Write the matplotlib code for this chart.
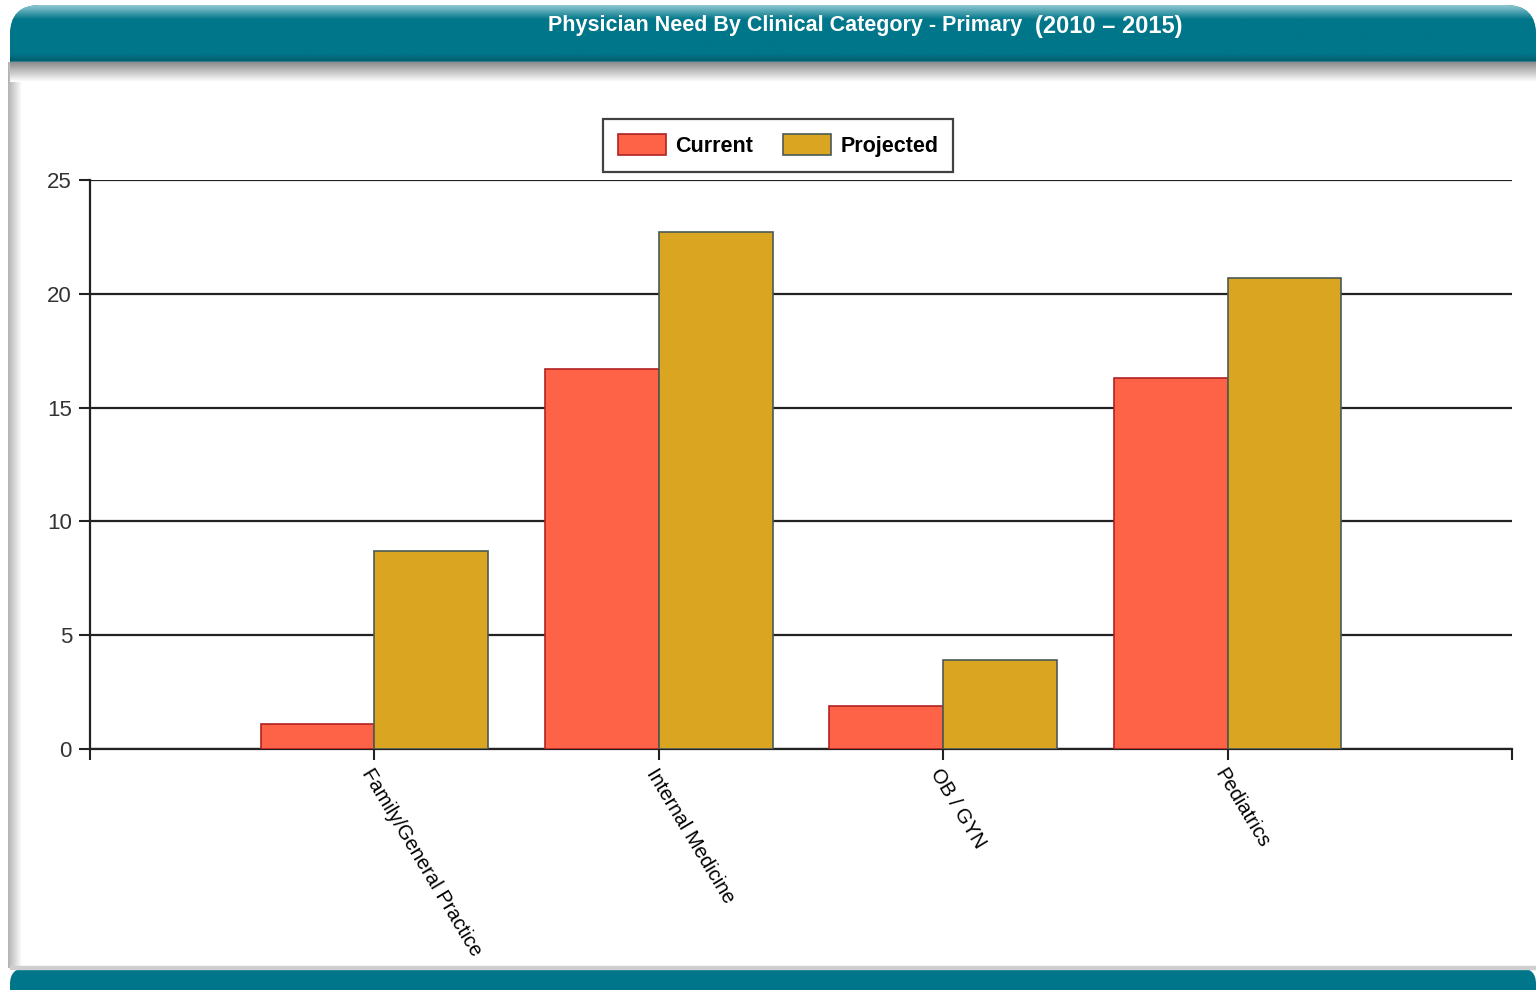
import matplotlib.pyplot as plt
import numpy as np
from matplotlib.patches import FancyBboxPatch, Rectangle
from matplotlib.colors import to_rgb

plt.rcParams['font.family'] = ['Liberation Sans', 'DejaVu Sans']

# data
categories = ["Family/General Practice", "Internal Medicine", "OB / GYN", "Pediatrics"]
current = [1.1, 16.7, 1.9, 16.3]
projected = [8.7, 22.7, 3.9, 20.7]
yticks = [0, 5, 10, 15, 20, 25]

teal = "#00768A"

fig = plt.figure(figsize=(15.36, 9.9), dpi=100)

# background frame in pixel coords
bg = fig.add_axes([0, 0, 1, 1])
bg.set_xlim(0, 1536)
bg.set_ylim(990, 0)
bg.axis("off")

# header band (rounded top), with vertical shading
hdr = FancyBboxPatch((10, 5), 1526, 110, boxstyle="round,pad=0,rounding_size=30",
                     fc=teal, ec="none", zorder=2)
bg.add_patch(hdr)
t = np.linspace(0, 1, 60)
top = np.array(to_rgb("#8cc7d0"))
mid = np.array(to_rgb(teal))
bot = np.array(to_rgb("#005e6e"))
cols = []
for v in t:
    if v < 0.25:
        c = top + (mid - top) * (v / 0.25)
    elif v < 0.85:
        c = mid
    else:
        c = mid + (bot - mid) * ((v - 0.85) / 0.15)
    cols.append(c)
img = np.array(cols).reshape(-1, 1, 3)
im = bg.imshow(img, extent=[10, 1536, 62, 5], aspect="auto", zorder=2.1)
im.set_clip_path(hdr)

# white page below header
bg.add_patch(Rectangle((10, 62), 1526, 906, color="white", zorder=2.5))
# left grey edge
grad = np.linspace(0.7, 1.0, 50).reshape(1, -1)
bg.imshow(grad, cmap="gray", vmin=0, vmax=1, extent=[8, 22, 968, 62], aspect="auto", zorder=2.6)
# shadow under header
sh = np.linspace(0.55, 1.0, 50).reshape(-1, 1)
bg.imshow(sh, cmap="gray", vmin=0, vmax=1, extent=[10, 1536, 82, 62], aspect="auto", zorder=2.7)

# bottom band
bg.add_patch(FancyBboxPatch((10, 968), 1526, 40, boxstyle="round,pad=0,rounding_size=16",
                            fc=teal, ec="none", zorder=2))
bg.add_patch(Rectangle((10, 966), 1526, 3, color="#cfcfcf", zorder=2.8))

bg.text(1022, 26, "Physician Need By Clinical Category - Primary", color="white",
        fontsize=15.5, fontweight="bold", ha="right", va="center", zorder=4)
bg.text(1035, 26, "(2010 \u2013 2015)", color="white", fontsize=17,
        fontweight="bold", ha="left", va="center", zorder=4)

# chart
ax = fig.add_axes([90 / 1536, 241 / 990, 1422 / 1536, 569 / 990])
ax.set_zorder(5)
ax.patch.set_alpha(0)

x = np.arange(1, len(categories) + 1)
w = 0.4
ax.bar(x - w / 2, current, w, color="#FF6347", edgecolor="#B22222", linewidth=1.2,
       label="Current", zorder=3)
ax.bar(x + w / 2, projected, w, color="#DAA520", edgecolor="#4A5A55", linewidth=1.2,
       label="Projected", zorder=3)

ax.set_xlim(0, 5)
ax.set_ylim(0, 25)
ax.set_yticks(yticks)
ax.yaxis.grid(True, color="#222222", linewidth=1.6, zorder=1)
ax.set_xticks([0, 1, 2, 3, 4, 5])
ax.set_xticklabels([""] + categories + [""], rotation=-59, ha="left", va="top",
                   rotation_mode="anchor", fontsize=14.5)
ax.tick_params(axis="x", length=8, width=1.5, color="#222222", pad=4)
ax.tick_params(axis="y", length=8, width=1.5, color="#222222", labelsize=16, pad=5)
for lbl in ax.get_yticklabels():
    lbl.set_color("#333333")

for s in ["top", "right"]:
    ax.spines[s].set_visible(False)
for s in ["left", "bottom"]:
    ax.spines[s].set_linewidth(1.6)
    ax.spines[s].set_color("#222222")

leg = ax.legend(loc="lower center", bbox_to_anchor=(0.484, 0.014), ncol=2, frameon=True,
                fancybox=False, edgecolor="#111111", handlelength=2.2,
                handleheight=1.1, handletextpad=0.45, columnspacing=1.4, borderpad=0.7,
                borderaxespad=0, prop={"weight": "bold", "size": 15.5},
                bbox_transform=ax.transAxes)
leg.set_bbox_to_anchor((0.484, 1.014), transform=ax.transAxes)
leg.get_frame().set_linewidth(1.6)

fig.savefig("out.png", dpi=100)
